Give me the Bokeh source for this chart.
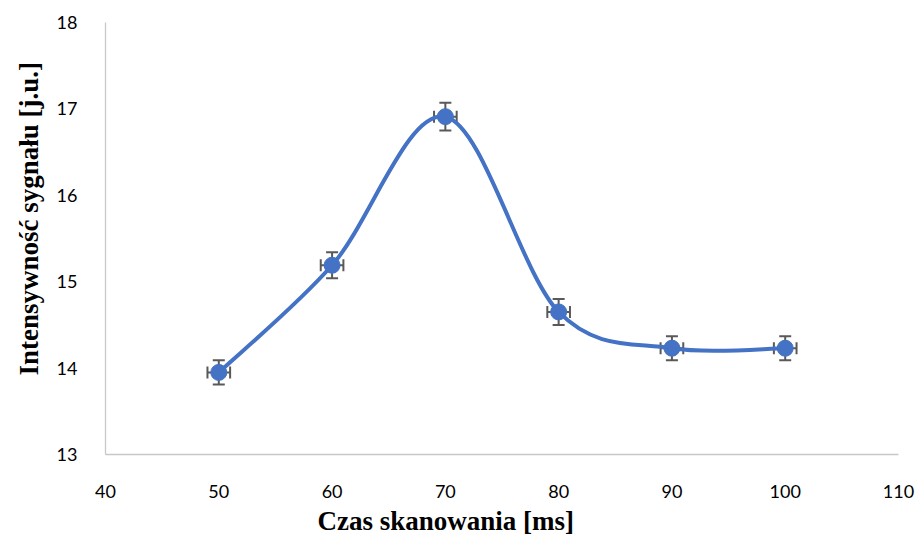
from bokeh.plotting import figure
from bokeh.models import Whisker, TeeHead, ColumnDataSource, FixedTicker, Range1d, Title
from bokeh.embed import file_html
from bokeh.resources import INLINE

# data
scan_time = [50, 60, 70, 80, 90, 100]
intensity = [13.95, 15.19, 16.91, 14.65, 14.23, 14.23]
y_err = [0.14, 0.15, 0.16, 0.15, 0.14, 0.14]
x_err = [1.0, 1.0, 1.0, 1.0, 1.0, 1.0]
x_ticks = [40, 50, 60, 70, 80, 90, 100, 110]
y_ticks = [13, 14, 15, 16, 17, 18]
x_title = "Czas skanowania [ms]"
y_title = "Intensywność sygnału [j.u.]"

BLUE = "#4472C4"
GRAY = "#595959"

p = figure(width=918, height=539, output_backend="svg", toolbar_location=None,
           x_range=Range1d(40, 110), y_range=Range1d(13, 18),
           min_border_left=105, min_border_right=20, min_border_top=22, min_border_bottom=85)
p.outline_line_color = None
p.background_fill_color = "white"
p.border_fill_color = "white"
p.xgrid.grid_line_color = None
p.ygrid.grid_line_color = None

# smooth curve (Catmull-Rom style Bezier through the points)
n = len(scan_time)
x0, y0, x1, y1, cx0, cy0, cx1, cy1 = [], [], [], [], [], [], [], []
for i in range(n - 1):
    pm = max(i - 1, 0)
    pp = min(i + 2, n - 1)
    x0.append(scan_time[i]); y0.append(intensity[i])
    x1.append(scan_time[i + 1]); y1.append(intensity[i + 1])
    cx0.append(scan_time[i] + (scan_time[i + 1] - scan_time[pm]) / 6)
    cy0.append(intensity[i] + (intensity[i + 1] - intensity[pm]) / 6)
    cx1.append(scan_time[i + 1] - (scan_time[pp] - scan_time[i]) / 6)
    cy1.append(intensity[i + 1] - (intensity[pp] - intensity[i]) / 6)
p.bezier(x0=x0, y0=y0, x1=x1, y1=y1, cx0=cx0, cy0=cy0, cx1=cx1, cy1=cy1,
         line_color=BLUE, line_width=4)

src = ColumnDataSource(dict(
    x=scan_time, y=intensity,
    yu=[v + e for v, e in zip(intensity, y_err)],
    yl=[v - e for v, e in zip(intensity, y_err)],
    xu=[v + e for v, e in zip(scan_time, x_err)],
    xl=[v - e for v, e in zip(scan_time, x_err)],
))

p.scatter("x", "y", source=src, size=16, fill_color=BLUE, line_color=BLUE)

wy = Whisker(source=src, base="x", upper="yu", lower="yl", dimension="height",
             line_color=GRAY, line_width=2,
             upper_head=TeeHead(size=12, line_color=GRAY, line_width=2),
             lower_head=TeeHead(size=12, line_color=GRAY, line_width=2))
wx = Whisker(source=src, base="y", upper="xu", lower="xl", dimension="width",
             line_color=GRAY, line_width=2,
             upper_head=TeeHead(size=12, line_color=GRAY, line_width=2),
             lower_head=TeeHead(size=12, line_color=GRAY, line_width=2))
p.add_layout(wy)
p.add_layout(wx)

for ax in (p.xaxis[0], p.yaxis[0]):
    ax.axis_line_color = "#c8c8c8"
    ax.axis_line_width = 1.3
    ax.major_tick_line_color = None
    ax.minor_tick_line_color = None
    ax.major_label_text_font = "Lato"
    ax.major_label_text_font_size = "18px"
    ax.major_label_text_color = "#000000"

p.xaxis.ticker = FixedTicker(ticks=x_ticks)
p.yaxis.ticker = FixedTicker(ticks=y_ticks)
p.xaxis.major_label_standoff = 24
p.yaxis.major_label_standoff = 22

# axis titles placed as in the reference (slightly off-centre)
p.add_layout(Title(text=x_title, align="left", offset=212, standoff=6,
                   text_font="Liberation Serif", text_font_style="bold",
                   text_font_size="27px", text_color="#000000"), "below")
p.add_layout(Title(text=y_title, align="left", offset=79, standoff=20,
                   text_font="Liberation Serif", text_font_style="bold",
                   text_font_size="27px", text_color="#000000"), "left")

open("out.html", "w").write(file_html(p, INLINE))
